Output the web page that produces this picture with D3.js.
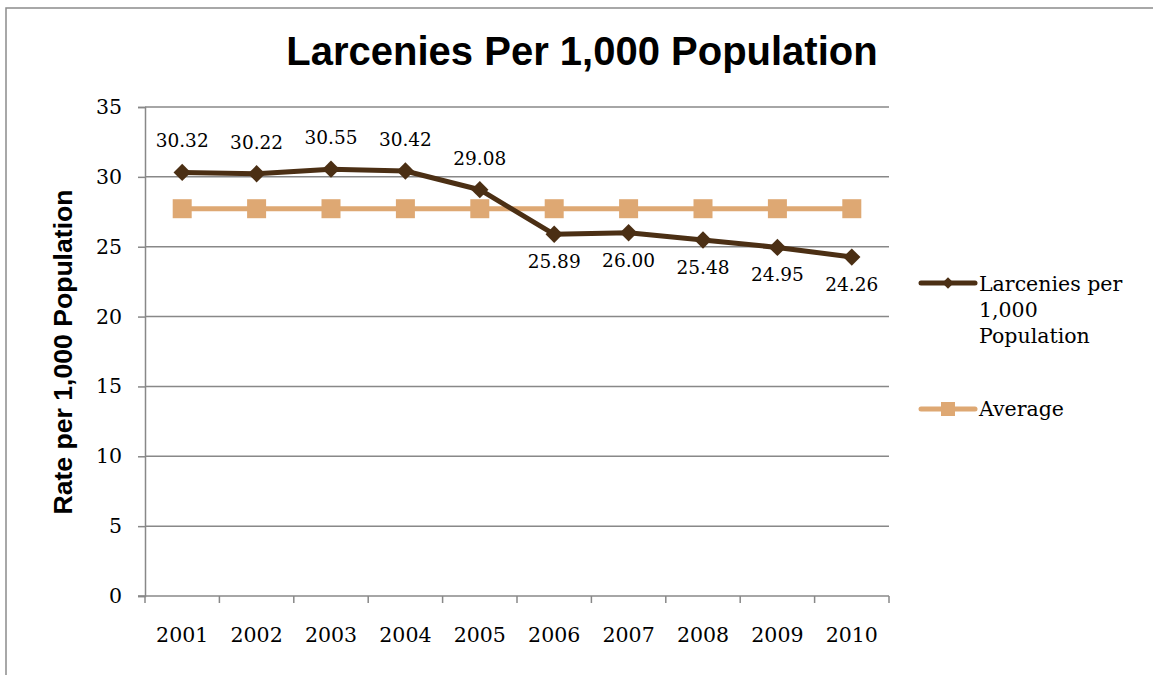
<!DOCTYPE html>
<html>
<head>
<meta charset="utf-8">
<script src="https://cdn.jsdelivr.net/npm/d3@7"></script>
<style>
  html, body { margin: 0; padding: 0; background: #fff; }
  svg { display: block; }
</style>
</head>
<body>
<svg id="chart" width="1153" height="675"></svg>
<script>
const years = ["2001","2002","2003","2004","2005","2006","2007","2008","2009","2010"];
const larcenies = [30.32, 30.22, 30.55, 30.42, 29.08, 25.89, 26.00, 25.48, 24.95, 24.26];
const average = [27.72, 27.72, 27.72, 27.72, 27.72, 27.72, 27.72, 27.72, 27.72, 27.72];
const yTicks = [0, 5, 10, 15, 20, 25, 30, 35];
const labelAbove = [true, true, true, true, true, false, false, false, false, false];
const seriesNames = ["Larcenies per 1,000 Population", "Average"];

const svg = d3.select("#chart");
const serif = "'DejaVu Serif', serif";
const sans = "'Liberation Sans', Arial, sans-serif";
const brown = "#4b2f14";
const tan = "#dea873";
const grid = "#888888";

// outer border (only top and left visible)
svg.append("rect").attr("x", 6).attr("y", 8).attr("width", 1200).attr("height", 700)
  .attr("fill", "none").attr("stroke", "#8c8c8c").attr("stroke-width", 1.5);

const x = d3.scaleBand().domain(years).range([145, 889]);
const y = d3.scaleLinear().domain([0, 35]).range([596, 107]);

// title
svg.append("text").attr("x", 582).attr("y", 65).attr("text-anchor", "middle")
  .attr("font-family", sans).attr("font-weight", "bold").attr("font-size", 40)
  .text("Larcenies Per 1,000 Population");

// gridlines
svg.append("g").selectAll("line").data(yTicks.filter(d => d > 0)).join("line")
  .attr("x1", 145).attr("x2", 889).attr("y1", d => y(d)).attr("y2", d => y(d))
  .attr("stroke", grid).attr("stroke-width", 1.5);

// y axis
const yAxis = svg.append("g").attr("transform", "translate(145,0)")
  .call(d3.axisLeft(y).tickValues(yTicks).tickSize(7).tickPadding(16).tickFormat(d3.format("d")));
yAxis.select(".domain").attr("stroke", grid).attr("stroke-width", 1.5);
yAxis.selectAll(".tick line").attr("stroke", grid).attr("stroke-width", 1.5);
yAxis.selectAll(".tick text").attr("font-family", serif).attr("font-size", 20.5).attr("fill", "#000");

// x axis
const xAxis = svg.append("g").attr("transform", "translate(0,596)")
  .call(d3.axisBottom(x).tickSize(0).tickPadding(31));
xAxis.select(".domain").remove();
xAxis.selectAll(".tick text").attr("font-family", serif).attr("font-size", 20.5).attr("fill", "#000");
svg.append("line").attr("x1", 138).attr("x2", 889).attr("y1", 596).attr("y2", 596)
  .attr("stroke", grid).attr("stroke-width", 1.5);
const bounds = years.map(d => x(d)).concat([x.range()[1]]);
svg.append("g").selectAll("line").data(bounds).join("line")
  .attr("x1", d => d).attr("x2", d => d).attr("y1", 596).attr("y2", 603)
  .attr("stroke", grid).attr("stroke-width", 1.5);

// y title
svg.append("text").attr("transform", "translate(72,352) rotate(-90)")
  .attr("text-anchor", "middle").attr("font-family", sans).attr("font-weight", "bold")
  .attr("font-size", 25).attr("textLength", 325).attr("lengthAdjust", "spacingAndGlyphs")
  .text("Rate per 1,000 Population");

const cx = d => x(d) + x.bandwidth() / 2;

// average series
svg.append("path").datum(average)
  .attr("d", d3.line().x((d, i) => cx(years[i])).y(d => y(d)))
  .attr("fill", "none").attr("stroke", tan).attr("stroke-width", 5);
svg.append("g").selectAll("rect").data(average).join("rect")
  .attr("x", (d, i) => cx(years[i]) - 9.5).attr("y", d => y(d) - 9.5)
  .attr("width", 19).attr("height", 19).attr("fill", tan);

// larceny series
svg.append("path").datum(larcenies)
  .attr("d", d3.line().x((d, i) => cx(years[i])).y(d => y(d)))
  .attr("fill", "none").attr("stroke", brown).attr("stroke-width", 5).attr("stroke-linejoin", "round");
const diamond = d3.symbol().type(d3.symbolSquare).size(150);
svg.append("g").selectAll("path").data(larcenies).join("path")
  .attr("d", diamond)
  .attr("transform", (d, i) => `translate(${cx(years[i])},${y(d)}) rotate(45)`)
  .attr("fill", brown);

// data labels
svg.append("g").selectAll("text").data(larcenies).join("text")
  .attr("x", (d, i) => cx(years[i]))
  .attr("y", (d, i) => labelAbove[i] ? y(d) - 25 : y(d) + 34)
  .attr("text-anchor", "middle").attr("font-family", serif).attr("font-size", 18.5)
  .text(d => d.toFixed(2));

// legend
const leg = svg.append("g");
leg.append("line").attr("x1", 921).attr("x2", 975).attr("y1", 283).attr("y2", 283)
  .attr("stroke", brown).attr("stroke-width", 5).attr("stroke-linecap", "round");
leg.append("path").attr("d", d3.symbol().type(d3.symbolSquare).size(65))
  .attr("transform", "translate(948,283) rotate(45)").attr("fill", brown);
const t1 = leg.append("text").attr("x", 979).attr("y", 291)
  .attr("font-family", serif).attr("font-size", 20.5);
["Larcenies per", "1,000", "Population"].forEach((s, i) =>
  t1.append("tspan").attr("x", 979).attr("dy", i === 0 ? 0 : 26).text(s));
leg.append("line").attr("x1", 921).attr("x2", 975).attr("y1", 409).attr("y2", 409)
  .attr("stroke", tan).attr("stroke-width", 5).attr("stroke-linecap", "round");
leg.append("rect").attr("x", 941).attr("y", 402).attr("width", 14).attr("height", 14).attr("fill", tan);
leg.append("text").attr("x", 979).attr("y", 416)
  .attr("font-family", serif).attr("font-size", 20.5).text(seriesNames[1]);
</script>
</body>
</html>
